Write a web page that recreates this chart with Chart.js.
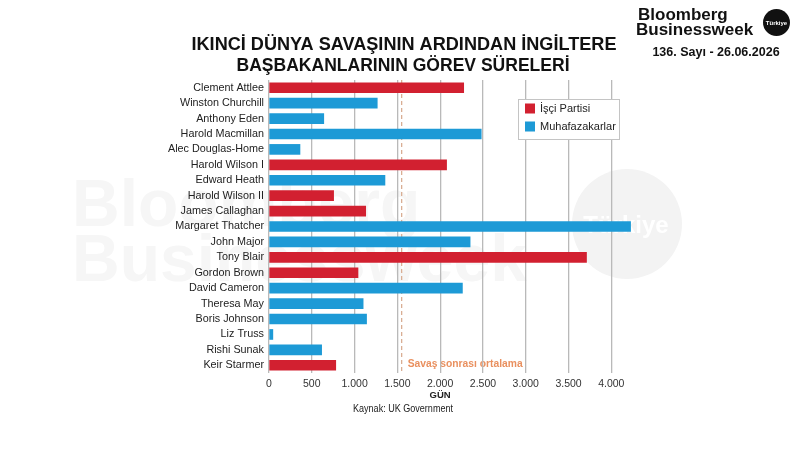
<!DOCTYPE html>
<html>
<head>
<meta charset="utf-8">
<script src="https://cdn.jsdelivr.net/npm/chart.js@4.4.1/dist/chart.umd.min.js"></script>
<style>
  html, body { margin: 0; padding: 0; background: #fff; }
  #chart { display: block; }
</style>
</head>
<body>
<canvas id="chart" width="800" height="450"></canvas>
<script>
// Prime ministers in office order
const names = [
    'Clement Attlee', 'Winston Churchill', 'Anthony Eden', 'Harold Macmillan',
    'Alec Douglas-Home', 'Harold Wilson I', 'Edward Heath', 'Harold Wilson II',
    'James Callaghan', 'Margaret Thatcher', 'John Major', 'Tony Blair',
    'Gordon Brown', 'David Cameron', 'Theresa May', 'Boris Johnson',
    'Liz Truss', 'Rishi Sunak', 'Keir Starmer'
];
// days in office
const days = [2275, 1265, 640, 2480, 362, 2075, 1355, 755, 1130, 4225, 2350, 3710, 1040, 2260, 1100, 1140, 45, 615, 780];
// L = İşçi Partisi, C = Muhafazakarlar
const party = ['L', 'C', 'C', 'C', 'C', 'L', 'C', 'L', 'L', 'C', 'C', 'L', 'L', 'C', 'C', 'C', 'C', 'C', 'L'];
const partyKeys = ['L', 'C'];
const partyLabels = ['İşçi Partisi', 'Muhafazakarlar'];
const partyColors = ['#d22030', '#1d9ad6'];
const xTicks = [0, 500, 1000, 1500, 2000, 2500, 3000, 3500, 4000];
const postWarAverage = 1550;

const titleLines = ['IKINCİ DÜNYA SAVAŞININ ARDINDAN İNGİLTERE', 'BAŞBAKANLARININ GÖREV SÜRELERİ'];
const axisTitle = 'GÜN';
const sourceText = 'Kaynak: UK Government';
const avgLabel = 'Savaş sonrası ortalama';

const FONT = '"Liberation Sans", Arial, sans-serif';

function fmt(v) {
    return String(v).replace(/\B(?=(\d{3})+(?!\d))/g, '.');
}

// Background: watermark, average line and its label (under grid + bars)
const backgroundPlugin = {
    id: 'background',
    beforeDraw(chart) {
        const ctx = chart.ctx;
        const area = chart.chartArea;
        const x = chart.scales.x;
        ctx.save();
        // watermark
        ctx.fillStyle = '#f6f6f6';
        ctx.font = 'bold 66px ' + FONT;
        ctx.textAlign = 'left';
        ctx.textBaseline = 'alphabetic';
        ctx.fillText('Bloomberg', 72, 226, 360);
        ctx.fillText('Businessweek', 72, 281, 480);
        ctx.beginPath();
        ctx.arc(627, 224, 55, 0, Math.PI * 2);
        ctx.fillStyle = '#f3f3f3';
        ctx.fill();
        ctx.fillStyle = '#ffffff';
        ctx.font = 'bold 24px ' + FONT;
        ctx.textAlign = 'center';
        ctx.fillText('Türkiye', 626, 233, 92);

        // average label
        const ax = x.getPixelForValue(postWarAverage);
        ctx.fillStyle = '#e9905f';
        ctx.font = 'bold 11px ' + FONT;
        ctx.textAlign = 'left';
        ctx.textBaseline = 'middle';
        ctx.fillText(avgLabel, ax + 6, 364, 115);

        // average line
        ctx.strokeStyle = '#d9ae94';
        ctx.lineWidth = 1.3;
        ctx.setLineDash([4, 3]);
        ctx.beginPath();
        ctx.moveTo(ax, area.top);
        ctx.lineTo(ax, area.bottom);
        ctx.stroke();
        ctx.restore();
    }
};

// Titles, header, legend, axis title, source
const overlayPlugin = {
    id: 'overlay',
    afterDraw(chart) {
        const ctx = chart.ctx;
        ctx.save();
        ctx.fillStyle = '#111';
        ctx.textAlign = 'center';
        ctx.textBaseline = 'alphabetic';
        ctx.font = 'bold 19px ' + FONT;
        ctx.fillText(titleLines[0], 404, 50, 425);
        ctx.fillText(titleLines[1], 403, 70.5, 333);

        // header logo
        ctx.textAlign = 'left';
        ctx.font = 'bold 17px ' + FONT;
        ctx.fillText('Bloomberg', 638, 19.5, 93);
        ctx.fillText('Businessweek', 636, 34.5, 121);
        ctx.beginPath();
        ctx.arc(776.5, 22.5, 13.5, 0, Math.PI * 2);
        ctx.fill();
        ctx.fillStyle = '#fff';
        ctx.textAlign = 'center';
        ctx.font = 'bold 6px ' + FONT;
        ctx.fillText('Türkiye', 776.5, 24.5, 22);
        ctx.fillStyle = '#111';
        ctx.font = 'bold 12.5px ' + FONT;
        ctx.fillText('136. Sayı - 26.06.2026', 716, 55.5, 142);

        // legend box
        const lx = 518, ly = 99, lw = 101, lh = 40;
        ctx.fillStyle = '#fff';
        ctx.fillRect(lx, ly, lw, lh);
        ctx.strokeStyle = '#c4c4c4';
        ctx.lineWidth = 1;
        ctx.strokeRect(lx + 0.5, ly + 0.5, lw, lh);
        chart.data.datasets.forEach((ds, i) => {
            const y = ly + 9 + i * 18;
            ctx.fillStyle = ds.backgroundColor;
            ctx.fillRect(lx + 7, y - 4.5, 10, 10);
            ctx.fillStyle = '#222';
            ctx.textAlign = 'left';
            ctx.textBaseline = 'middle';
            ctx.font = '11px ' + FONT;
            ctx.fillText(ds.label, lx + 22, y + 0.5, 76);
        });

        // axis title and source
        ctx.fillStyle = '#222';
        ctx.textAlign = 'center';
        ctx.textBaseline = 'middle';
        ctx.font = 'bold 9.5px ' + FONT;
        ctx.fillText(axisTitle, chart.scales.x.getPixelForValue(2000), 395);
        ctx.font = '10px ' + FONT;
        ctx.fillText(sourceText, 403, 409, 100);
        ctx.restore();
    }
};

const datasets = partyKeys.map((key, i) => ({
    label: partyLabels[i],
    data: days.map((d, j) => (party[j] === key ? d : null)),
    backgroundColor: partyColors[i],
    borderWidth: 0,
    barThickness: 10,
    grouped: false
}));

new Chart(document.getElementById('chart'), {
    type: 'bar',
    data: {
        labels: names,
        datasets: datasets
    },
    options: {
        indexAxis: 'y',
        responsive: false,
        animation: false,
        devicePixelRatio: 1,
        layout: {
            padding: { left: 0, right: 163, top: 80, bottom: 55 }
        },
        plugins: {
            legend: { display: false },
            title: { display: false },
            tooltip: { enabled: false }
        },
        scales: {
            x: {
                min: 0,
                max: 4300,
                afterBuildTicks: scale => {
                    scale.ticks = xTicks.map(v => ({ value: v }));
                },
                afterFit: scale => { scale.height = 22; },
                grid: {
                    color: '#b9b9b9',
                    lineWidth: 1.3,
                    drawTicks: false
                },
                border: { display: false },
                ticks: {
                    padding: 5,
                    color: '#333',
                    font: { family: FONT, size: 10.5 },
                    callback: v => fmt(v)
                }
            },
            y: {
                afterFit: scale => { scale.width = 269; },
                grid: { display: false, drawTicks: false },
                border: { display: false },
                ticks: {
                    autoSkip: false,
                    padding: 5,
                    color: '#222',
                    font: { family: FONT, size: 10.8 }
                }
            }
        }
    },
    plugins: [backgroundPlugin, overlayPlugin]
});
</script>
</body>
</html>
